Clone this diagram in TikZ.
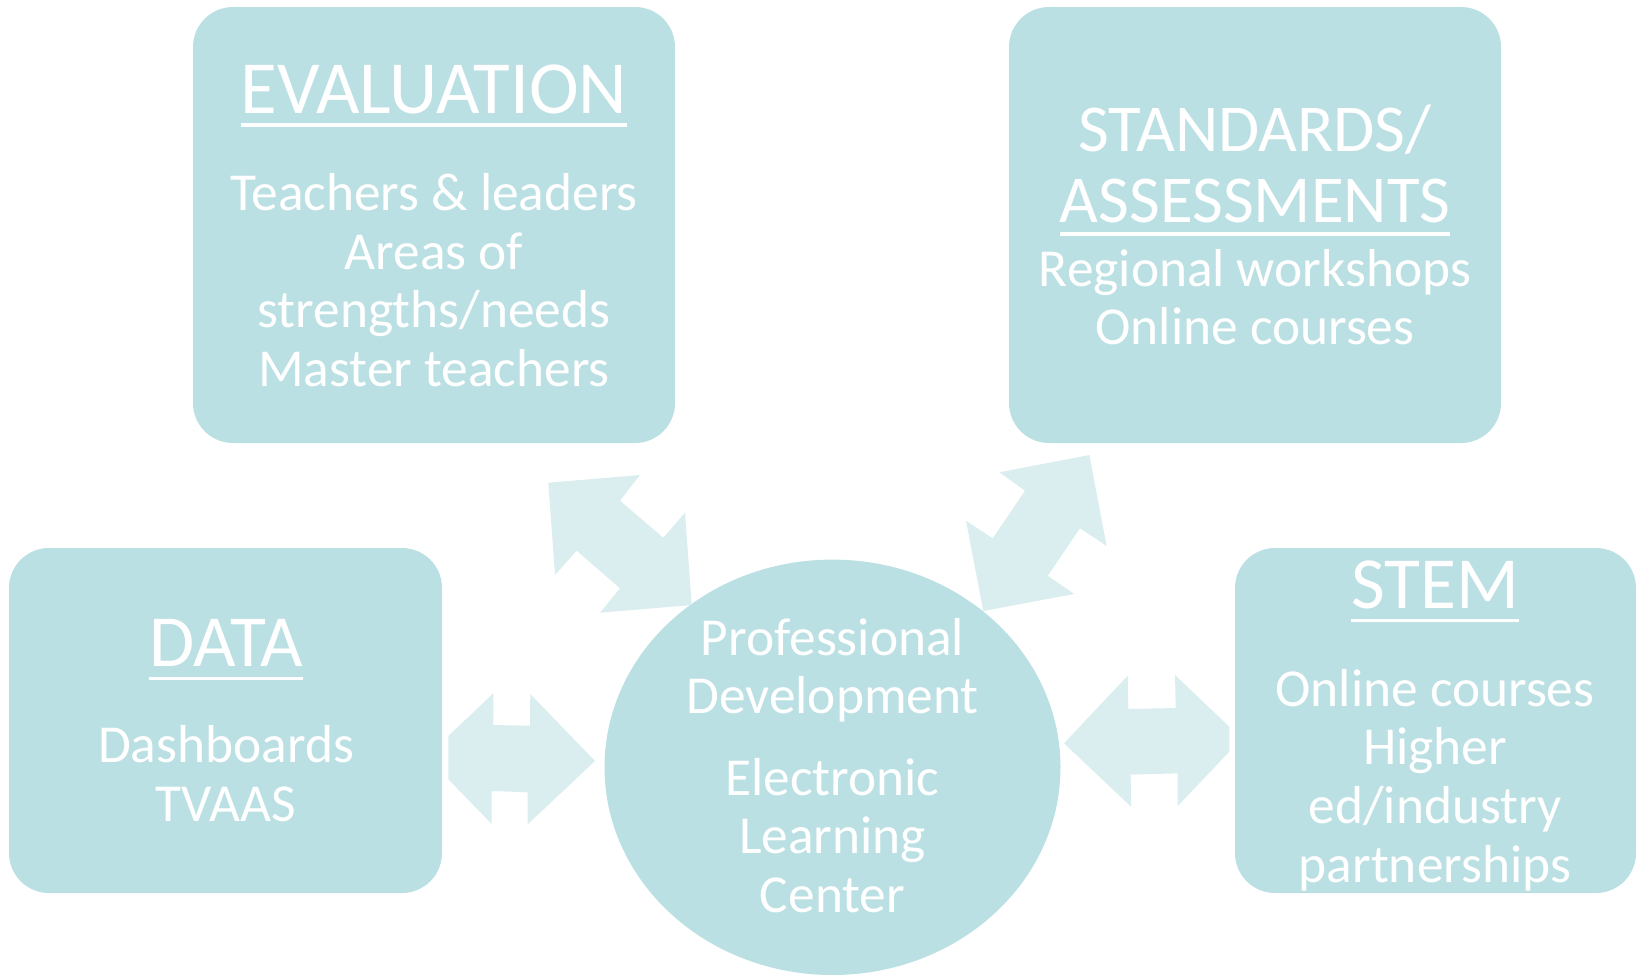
\documentclass[tikz,border=0pt]{standalone}
\usepackage{fontspec}
\usetikzlibrary{shapes.geometric}
\setmainfont{Carlito}
\definecolor{boxc}{HTML}{BBE0E3}
\definecolor{arrc}{HTML}{DAEDEF}
\newcommand\myul[1]{\setbox0\hbox{#1}\copy0\llap{\rule[-13.5pt]{\wd0}{3.5pt}}}
\begin{document}
\begin{tikzpicture}[x=1pt,y=-1pt,
  panel/.style={fill=boxc,draw=none,rounded corners=40pt},
  arr/.style={fill=arrc,draw=none},
  ttl/.style={text=white,anchor=base,inner sep=0pt,font=\fontsize{75}{80}\selectfont},
  ttlm/.style={text=white,anchor=base,inner sep=0pt,font=\fontsize{73.5}{80}\selectfont},
  ttls/.style={text=white,anchor=base,inner sep=0pt,font=\fontsize{67}{72}\selectfont},
  bdy/.style={text=white,anchor=base,inner sep=0pt,font=\fontsize{53.4}{58}\selectfont}]
\useasboundingbox (0,0) rectangle (1640,975);
% panels
\path[panel] (193,7) rectangle (675,443);
\path[panel] (1009,7) rectangle (1501,443);
\path[panel] (9,548) rectangle (442,893);
\path[panel] (1235,548) rectangle (1636,893);
\node[inner sep=0pt,minimum width=456pt,minimum height=415.4pt,ellipse,fill=boxc,draw=none] (pd) at (832.5,767.3) {};
% arrows
\path[arr] (448.3,736) -- (493.3,693.3) -- (493.3,725) -- (530,725.7) -- (530.3,694) -- (595,761) -- (527.7,824.3) -- (527.7,792.3) -- (491.7,791) -- (491.7,824) -- (448.3,779.3) -- cycle;
\path[arr] (1064,743.3) -- (1127.7,675.7) -- (1128.3,709) -- (1175.7,708) -- (1175,675) -- (1229.3,726.7) -- (1229.3,751.7) -- (1177.7,806) -- (1177.7,773.3) -- (1130.7,774.7) -- (1131,806.7) -- cycle;
\path[arr] (548.3,482.7) -- (640,475) -- (620,500.7) -- (663.3,537.7) -- (685,512.7) -- (691.7,605) -- (600,612.7) -- (620,588.3) -- (576.7,550.7) -- (555,575) -- cycle;
\path[arr] (999.3,472.3) -- (1089.3,455) -- (1106.7,546) -- (1080,528.3) -- (1047.7,575.7) -- (1074.3,594) -- (983.3,611) -- (966,520.7) -- (992.7,538.3) -- (1025,490.7) -- cycle;
% EVALUATION
\node[ttl] (evt) at (434,113.3) {\myul{EVALUATION}};
\node[bdy] (ev1) at (434,210.5) {Teachers \& leaders};
\node[bdy] (ev2) at (434,269) {Areas of};
\node[bdy] (ev3) at (434,327.6) {strengths/needs};
\node[bdy] (ev4) at (434,386) {Master teachers};
% STANDARDS
\node[ttls] (stt1) at (1255,151) {STANDARDS/};
\node[ttls] (stt2) at (1255,222) {\myul{ASSESSMENTS}};
\node[bdy] (st1) at (1255,286) {Regional workshops};
\node[bdy] (st2) at (1255,344) {Online courses};
% DATA
\node[ttlm] (dat) at (226,666.6) {\myul{DATA}};
\node[bdy] (da1) at (226,762.7) {Dashboards};
\node[bdy] (da2) at (226,821.3) {TVAAS};
% STEM
\node[ttlm] (smt) at (1435,608.7) {\myul{STEM}};
\node[bdy] (sm1) at (1435,706.3) {Online courses};
\node[bdy] (sm2) at (1435,764.8) {Higher};
\node[bdy] (sm3) at (1435,823.4) {ed/industry};
\node[bdy] (sm4) at (1435,882) {partnerships};
% center
\node[bdy] (c1) at (832.5,655) {Professional};
\node[bdy] (c2) at (832.5,713.6) {Development};
\node[bdy] (c3) at (832.5,795) {Electronic};
\node[bdy] (c4) at (832.5,853.7) {Learning};
\node[bdy] (c5) at (832.5,912.3) {Center};
\end{tikzpicture}
\end{document}
